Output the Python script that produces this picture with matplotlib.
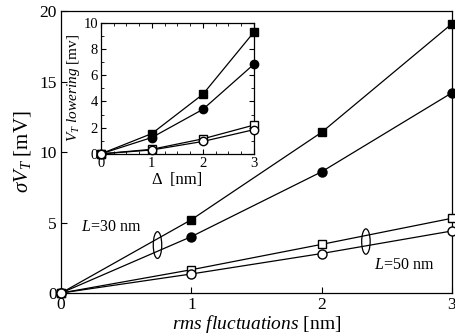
import matplotlib
matplotlib.use("Agg")
import matplotlib.pyplot as plt
from matplotlib.patches import Ellipse

plt.rcParams['font.family'] = ['Liberation Serif', 'DejaVu Serif']
plt.rcParams['mathtext.fontset'] = 'custom'
plt.rcParams['mathtext.rm'] = 'Liberation Serif'
plt.rcParams['mathtext.it'] = 'Liberation Serif:italic'
plt.rcParams['mathtext.bf'] = 'Liberation Serif:bold'

# main data
x_main = [0, 1, 2, 3]
sq_fill = [0, 5.2, 11.4, 19.1]
ci_fill = [0, 4.0, 8.6, 14.2]
sq_open = [0, 1.65, 3.45, 5.3]
ci_open = [0, 1.35, 2.8, 4.4]

# inset data
x_in = [0, 1, 2, 3]
in_sq_fill = [0, 1.55, 4.55, 9.3]
in_ci_fill = [0, 1.25, 3.4, 6.85]
in_sq_open = [0, 0.35, 1.15, 2.2]
in_ci_open = [0, 0.3, 0.95, 1.85]

fig = plt.figure(figsize=(4.56, 3.36), dpi=100)
ax = fig.add_axes([0.134, 0.128, 0.857, 0.839])

lw = 0.9
ax.plot(x_main, sq_fill, '-s', color='black', lw=lw, ms=6, mfc='black', clip_on=False, zorder=3)
ax.plot(x_main, ci_fill, '-o', color='black', lw=lw, ms=6.5, mfc='black', clip_on=False, zorder=3)
ax.plot(x_main, sq_open, '-s', color='black', lw=lw, ms=6, mfc='white', clip_on=False, zorder=3)
ax.plot(x_main, ci_open, '-o', color='black', lw=lw, ms=6.5, mfc='white', clip_on=False, zorder=3)

ax.set_xlim(0, 3)
ax.set_ylim(0, 20)
ax.set_xticks([0, 1, 2, 3])
ax.set_yticks([0, 5, 10, 15, 20])
ax.tick_params(direction='in', labelsize=12.5, length=4, width=0.8, pad=3)
for s in ax.spines.values():
    s.set_linewidth(0.9)

ax.set_ylabel(r'$\sigma V_T$ [mV]', fontsize=15, labelpad=5)
ax.set_xlabel(r'$rms\ fluctuations$ [nm]', fontsize=14, labelpad=0)

ax.add_patch(Ellipse((0.74, 3.4), 0.065, 1.9, fill=False, ec='black', lw=0.9, zorder=4))
ax.add_patch(Ellipse((2.34, 3.65), 0.065, 1.8, fill=False, ec='black', lw=0.9, zorder=4))
ax.text(0.15, 4.7, r'$L$=30 nm', fontsize=11.5, ha='left', va='center')
ax.text(2.4, 2.0, r'$L$=50 nm', fontsize=11.5, ha='left', va='center')

# inset
ins = fig.add_axes([0.221, 0.542, 0.336, 0.390])
ins.plot(x_in, in_sq_fill, '-s', color='black', lw=lw, ms=5.5, mfc='black', clip_on=False, zorder=3)
ins.plot(x_in, in_ci_fill, '-o', color='black', lw=lw, ms=6, mfc='black', clip_on=False, zorder=3)
ins.plot(x_in, in_sq_open, '-s', color='black', lw=lw, ms=5.5, mfc='white', clip_on=False, zorder=3)
ins.plot(x_in, in_ci_open, '-o', color='black', lw=lw, ms=6, mfc='white', clip_on=False, zorder=3)
ins.set_xlim(0, 3)
ins.set_ylim(0, 10)
ins.set_xticks([0, 1, 2, 3])
ins.set_yticks([0, 2, 4, 6, 8, 10])
ins.set_xticks([0.25 * i for i in range(13)], minor=True)
ins.set_yticks(list(range(11)), minor=True)
ins.tick_params(which='both', direction='in', top=True, right=True, labelsize=10.5, pad=2)
ins.tick_params(which='major', length=3.5, width=0.8)
ins.tick_params(which='minor', length=2, width=0.6)
for s in ins.spines.values():
    s.set_linewidth(0.9)
ins.set_ylabel(r'$V_T$ $lowering$ [mv]', fontsize=11, labelpad=1)
ins.set_xlabel('Δ  [nm]', fontsize=12, labelpad=2)

fig.savefig('out.png', dpi=100)
